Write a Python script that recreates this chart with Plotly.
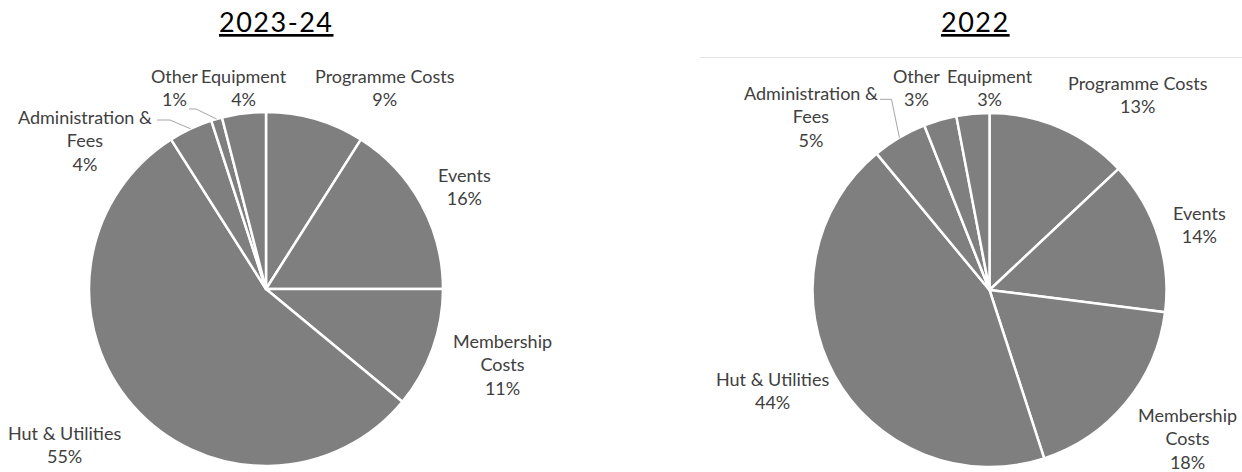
import math
import plotly.graph_objects as go

# ---------------- data ----------------
categories = ["Programme Costs", "Events", "Membership Costs", "Hut & Utilities",
              "Administration & Fees", "Other", "Equipment"]
category_lines = ["Programme Costs", "Events", "Membership<br>Costs", "Hut & Utilities",
                  "Administration &<br>Fees", "Other", "Equipment"]
values_2023_24 = [9, 16, 11, 55, 4, 1, 4]
values_2022 = [13, 14, 18, 44, 5, 3, 3]
titles = ["2023-24", "2022"]

# ---------------- layout / style ----------------
W, H = 1242, 472
FONT = "Lato"
TEXT_COLOR = "#404040"
SLICE_COLOR = "#7f7f7f"
LEADER_COLOR = "#a6a6a6"

# pie geometry in pixels: centre x, centre y, radius
pies = [dict(cx=266, cy=289, r=177), dict(cx=989.5, cy=290, r=177)]
title_pos = [(276, 22), (975, 22)]

# label block centres relative to pie centre (pixels)
label_offsets = [
    [(119, -202), (198, -102), (236, 75), (-202, 155), (-181, -149), (-92, -202), (-22, -202)],
    [(148.5, -196), (209.5, -65), (197.5, 148), (-217.5, 100), (-179, -174), (-73, -203), (0.5, -203)],
]
# leader lines: (slice index, start offset relative to pie centre, elbow offset)
leaders = [
    [(4, (-109, -169), (-96, -169)), (5, (-77, -180), (-70, -180))],
    [(4, (-109.5, -190.7), (-98, -190.7))],
]


def px(x):
    return x / W


def py(y):
    return 1 - y / H


fig = go.Figure()
annotations = []
shapes = []

for k, vals in enumerate([values_2023_24, values_2022]):
    g = pies[k]
    fig.add_trace(go.Pie(
        labels=categories,
        values=vals,
        sort=False,
        direction="clockwise",
        rotation=0,
        textinfo="none",
        hoverinfo="label+percent",
        marker=dict(colors=[SLICE_COLOR] * len(vals),
                    line=dict(color="white", width=2.5)),
        domain=dict(x=[px(g["cx"] - g["r"]), px(g["cx"] + g["r"])],
                    y=[py(g["cy"] + g["r"]), py(g["cy"] - g["r"])]),
        showlegend=False,
    ))
    total = sum(vals)
    # labels
    for i, v in enumerate(vals):
        dx, dy = label_offsets[k][i]
        annotations.append(dict(
            x=px(g["cx"] + dx), y=py(g["cy"] + dy), xref="paper", yref="paper",
            xanchor="center", yanchor="middle", align="center", showarrow=False,
            text=f"{category_lines[i]}<br>{round(v / total * 100)}%",
            font=dict(family=FONT, size=18, color=TEXT_COLOR),
        ))
    # leader lines, ending at the slice's outer edge mid-angle
    cum = 0
    mids = []
    for v in vals:
        mids.append((cum + v / 2) / total * 2 * math.pi)
        cum += v
    for idx, s, e in leaders[k]:
        a = mids[idx]
        ex = g["cx"] + g["r"] * math.sin(a)
        ey = g["cy"] - g["r"] * math.cos(a)
        pts = [(g["cx"] + s[0], g["cy"] + s[1]), (g["cx"] + e[0], g["cy"] + e[1]), (ex, ey)]
        path = "M " + " L ".join(f"{px(x):.5f},{py(y):.5f}" for x, y in pts)
        shapes.append(dict(type="path", path=path, xref="paper", yref="paper",
                           line=dict(color=LEADER_COLOR, width=1)))
    # title
    tx, ty = title_pos[k]
    annotations.append(dict(
        x=px(tx), y=py(ty), xref="paper", yref="paper", xanchor="center", yanchor="middle",
        showarrow=False,
        text=f"<u><span style='letter-spacing:1.5px'>{titles[k]}</span></u>",
        font=dict(family=FONT, size=27, color="#000000"),
    ))

# faint top border of the right chart area
shapes.append(dict(type="line", xref="paper", yref="paper", x0=px(700), x1=1,
                   y0=py(57.5), y1=py(57.5), line=dict(color="#e3e3e3", width=1)))

fig.update_layout(
    width=W, height=H,
    margin=dict(l=0, r=0, t=0, b=0),
    paper_bgcolor="white", plot_bgcolor="white",
    annotations=annotations, shapes=shapes,
    showlegend=False,
)

fig.write_html("out.html")
